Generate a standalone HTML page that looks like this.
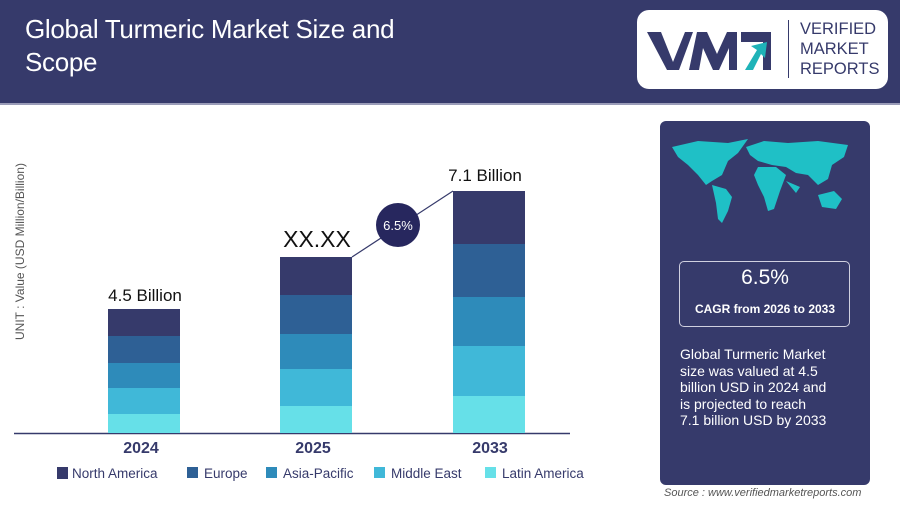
<!DOCTYPE html>
<html><head><meta charset="utf-8"><style>
body{margin:0;width:900px;height:506px;background:#fff;font-family:"Liberation Sans",sans-serif;position:relative;overflow:hidden}
.a{position:absolute}
</style></head><body>
<div class="a" style="left:0;top:0;width:900px;height:103px;background:#363a6b"></div>
<div class="a" style="left:0;top:103px;width:900px;height:2px;background:#9a9cb8"></div>
<div class="a" style="left:25px;top:13px;color:#fff;font-size:26px;line-height:33px;letter-spacing:-0.3px">Global Turmeric Market Size and<br>Scope</div>
<div class="a" style="left:637px;top:10px;width:251px;height:79px;background:#fff;border-radius:12px"></div>
<svg class="a" style="left:645px;top:28px" width="140" height="45">
<polygon points="2,4 16,4 28,34 40,4 48,4 34,42 22,42" fill="#363a6b"/>
<polygon points="44,42 52,4 62,4 72,26 82,4 92,4 92,42 84,42 84,20 74,42 68,42 58,20 54,42" fill="#363a6b"/>
<polygon points="96,4 126,4 126,42 118,42 118,14 96,14" fill="#363a6b"/>
<polygon points="100,42 112,22 106,18 122,14 120,30 116,26 108,42" fill="#1fb3b8"/>
</svg>
<div class="a" style="left:788px;top:20px;width:1px;height:58px;background:#363a6b"></div>
<div class="a" style="left:800px;top:19px;color:#363a6b;font-size:16.5px;line-height:20px">VERIFIED<br>MARKET<br>REPORTS</div>

<div class="a" style="left:13px;top:340px;transform:rotate(-90deg);transform-origin:0 0;white-space:nowrap;font-size:12px;color:#555;width:200px">UNIT : Value (USD Million/Billion)</div>

<svg class="a" style="left:0;top:0" width="650" height="506">
<line x1="14" y1="433.5" x2="570" y2="433.5" stroke="#363a6b" stroke-width="1.5"/>
<g>
<rect x="108" y="309" width="72" height="27" fill="#363a6b"/>
<rect x="108" y="336" width="72" height="27" fill="#2e6095"/>
<rect x="108" y="363" width="72" height="25" fill="#2e8bba"/>
<rect x="108" y="388" width="72" height="26" fill="#40b8d8"/>
<rect x="108" y="414" width="72" height="19" fill="#66e0e8"/>
<rect x="280" y="257" width="72" height="38" fill="#363a6b"/>
<rect x="280" y="295" width="72" height="39" fill="#2e6095"/>
<rect x="280" y="334" width="72" height="35" fill="#2e8bba"/>
<rect x="280" y="369" width="72" height="37" fill="#40b8d8"/>
<rect x="280" y="406" width="72" height="27" fill="#66e0e8"/>
<rect x="453" y="191" width="72" height="53" fill="#363a6b"/>
<rect x="453" y="244" width="72" height="53" fill="#2e6095"/>
<rect x="453" y="297" width="72" height="49" fill="#2e8bba"/>
<rect x="453" y="346" width="72" height="50" fill="#40b8d8"/>
<rect x="453" y="396" width="72" height="37" fill="#66e0e8"/>
</g>
<line x1="352" y1="257" x2="453" y2="191" stroke="#363a6b" stroke-width="1.2"/>
<circle cx="398" cy="225" r="22" fill="#27275e"/>
<text x="398" y="230" font-size="13" fill="#fff" text-anchor="middle" font-family="Liberation Sans">6.5%</text>
<text x="145" y="301" font-size="17" fill="#111" text-anchor="middle" font-family="Liberation Sans">4.5 Billion</text>
<text x="317" y="247" font-size="23" fill="#111" text-anchor="middle" font-family="Liberation Sans">XX.XX</text>
<text x="485" y="181" font-size="17" fill="#111" text-anchor="middle" font-family="Liberation Sans">7.1 Billion</text>
<g font-size="16" font-weight="bold" fill="#363a6b" text-anchor="middle" font-family="Liberation Sans">
<text x="141" y="453">2024</text><text x="313" y="453">2025</text><text x="490" y="453">2033</text></g>
<g font-size="13.5" fill="#363a6b" font-family="Liberation Sans">
<rect x="57" y="467" width="11" height="12" fill="#363a6b"/><text x="72" y="478">North America</text>
<rect x="187" y="467" width="11" height="11" fill="#2e6095"/><text x="204" y="478">Europe</text>
<rect x="266" y="467" width="11" height="11" fill="#2e8bba"/><text x="283" y="478">Asia-Pacific</text>
<rect x="374" y="467" width="11" height="11" fill="#40b8d8"/><text x="391" y="478">Middle East</text>
<rect x="485" y="467" width="11" height="11" fill="#66e0e8"/><text x="502" y="478">Latin America</text>
</g>
</svg>

<div class="a" style="left:660px;top:121px;width:210px;height:364px;background:#363a6b;border-radius:6px"></div>
<svg class="a" style="left:668px;top:135px" width="195" height="100">
<g fill="#1fc0c6">
<path d="M4,12 L30,6 L60,8 L80,4 L70,18 L60,26 L54,40 L44,46 L38,50 L30,40 L20,30 L10,22 Z"/>
<path d="M44,50 L58,54 L64,62 L60,76 L54,88 L50,84 L48,68 Z"/>
<path d="M78,12 L96,6 L120,8 L150,6 L180,10 L176,22 L164,30 L160,44 L150,50 L140,40 L128,38 L118,32 L104,30 L90,26 L82,20 Z"/>
<path d="M90,32 L108,32 L118,40 L112,56 L106,74 L100,76 L96,62 L90,50 L86,40 Z"/>
<path d="M150,60 L166,56 L174,64 L168,74 L154,72 Z"/>
<path d="M118,46 L132,52 L128,58 Z"/>
</g></svg>
<div class="a" style="left:679px;top:261px;width:169px;height:64px;border:1.5px solid #d0d0e0;border-radius:5px"></div>
<div class="a" style="left:679px;top:266px;width:172px;text-align:center;color:#fff;font-size:21px">6.5%</div>
<div class="a" style="left:679px;top:302px;width:172px;text-align:center;color:#fff;font-size:12px;font-weight:bold">CAGR from 2026 to 2033</div>
<div class="a" style="left:680px;top:346px;color:#fff;font-size:14px;line-height:16.5px">Global Turmeric Market<br>size was valued at 4.5<br>billion USD in 2024 and<br>is projected to reach<br>7.1 billion USD by 2033</div>
<div class="a" style="left:664px;top:487px;color:#555;font-size:11px;font-style:italic">Source : www.verifiedmarketreports.com</div>
</body></html>
